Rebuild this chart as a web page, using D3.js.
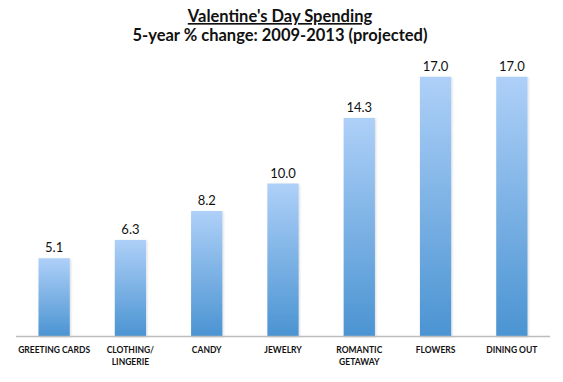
<!DOCTYPE html>
<html><head><meta charset="utf-8">
<script src="https://cdn.jsdelivr.net/npm/d3@7"></script>
<style>body{margin:0;background:#fff;} svg{display:block;}</style>
</head><body>
<script>
const categories = ["GREETING CARDS", "CLOTHING/\nLINGERIE", "CANDY", "JEWELRY", "ROMANTIC\nGETAWAY", "FLOWERS", "DINING OUT"];
const values = [5.1, 6.3, 8.2, 10.0, 14.3, 17.0, 17.0];
const titleLines = ["Valentine's Day Spending", "5-year % change: 2009-2013 (projected)"];

const W = 563, H = 382;
const svg = d3.select("body").append("svg").attr("width", W).attr("height", H);
const font = "Lato, 'Open Sans', sans-serif";

const defs = svg.append("defs");
const g = defs.append("linearGradient").attr("id", "barGrad").attr("x1", 0).attr("y1", 0).attr("x2", 0).attr("y2", 1);
g.append("stop").attr("offset", "0%").attr("stop-color", "#aed0f8");
g.append("stop").attr("offset", "100%").attr("stop-color", "#4b94d2");
const f = defs.append("filter").attr("id", "sh").attr("x", "-20%").attr("y", "-5%").attr("width", "150%").attr("height", "115%");
f.append("feDropShadow").attr("dx", 1).attr("dy", 1).attr("stdDeviation", 1).attr("flood-color", "#000").attr("flood-opacity", 0.15);

const x = d3.scaleBand().domain(categories).range([16, 550]).paddingInner(0.59).paddingOuter(0.295);
const y = d3.scaleLinear().domain([0, 20]).range([336, 31]);

svg.selectAll("rect.bar").data(values).enter().append("rect")
  .attr("x", (d, i) => x(categories[i]))
  .attr("y", d => y(d))
  .attr("width", x.bandwidth())
  .attr("height", d => y(0) - y(d))
  .attr("fill", "url(#barGrad)")
  .attr("filter", "url(#sh)");

svg.append("line").attr("x1", 16).attr("x2", 550).attr("y1", y(0) + 0.5).attr("y2", y(0) + 0.5)
  .attr("stroke", "#bdbdbd").attr("stroke-width", 1.5);

svg.selectAll("text.val").data(values).enter().append("text")
  .attr("x", (d, i) => x(categories[i]) + x.bandwidth() / 2)
  .attr("y", d => y(d) - 6)
  .attr("text-anchor", "middle")
  .attr("font-family", font).attr("font-size", 13).attr("fill", "#111")
  .text(d => d.toFixed(1));

categories.forEach((c, i) => {
  const t = svg.append("text")
    .attr("x", x(c) + x.bandwidth() / 2)
    .attr("y", 353)
    .attr("text-anchor", "middle")
    .attr("font-family", font).attr("font-size", 8.5).attr("font-weight", "bold").attr("fill", "#111");
  c.split("\n").forEach((line, j) => {
    t.append("tspan").attr("x", x(c) + x.bandwidth() / 2).attr("dy", j === 0 ? 0 : 12).text(line);
  });
});

titleLines.forEach((line, i) => {
  svg.append("text").attr("x", 280).attr("y", 22 + i * 19)
    .attr("text-anchor", "middle")
    .attr("font-family", font).attr("font-size", 16.5).attr("font-weight", "bold").attr("fill", "#111")
    .attr("text-decoration", i === 0 ? "underline" : null)
    .text(line);
});
</script>
</body></html>
